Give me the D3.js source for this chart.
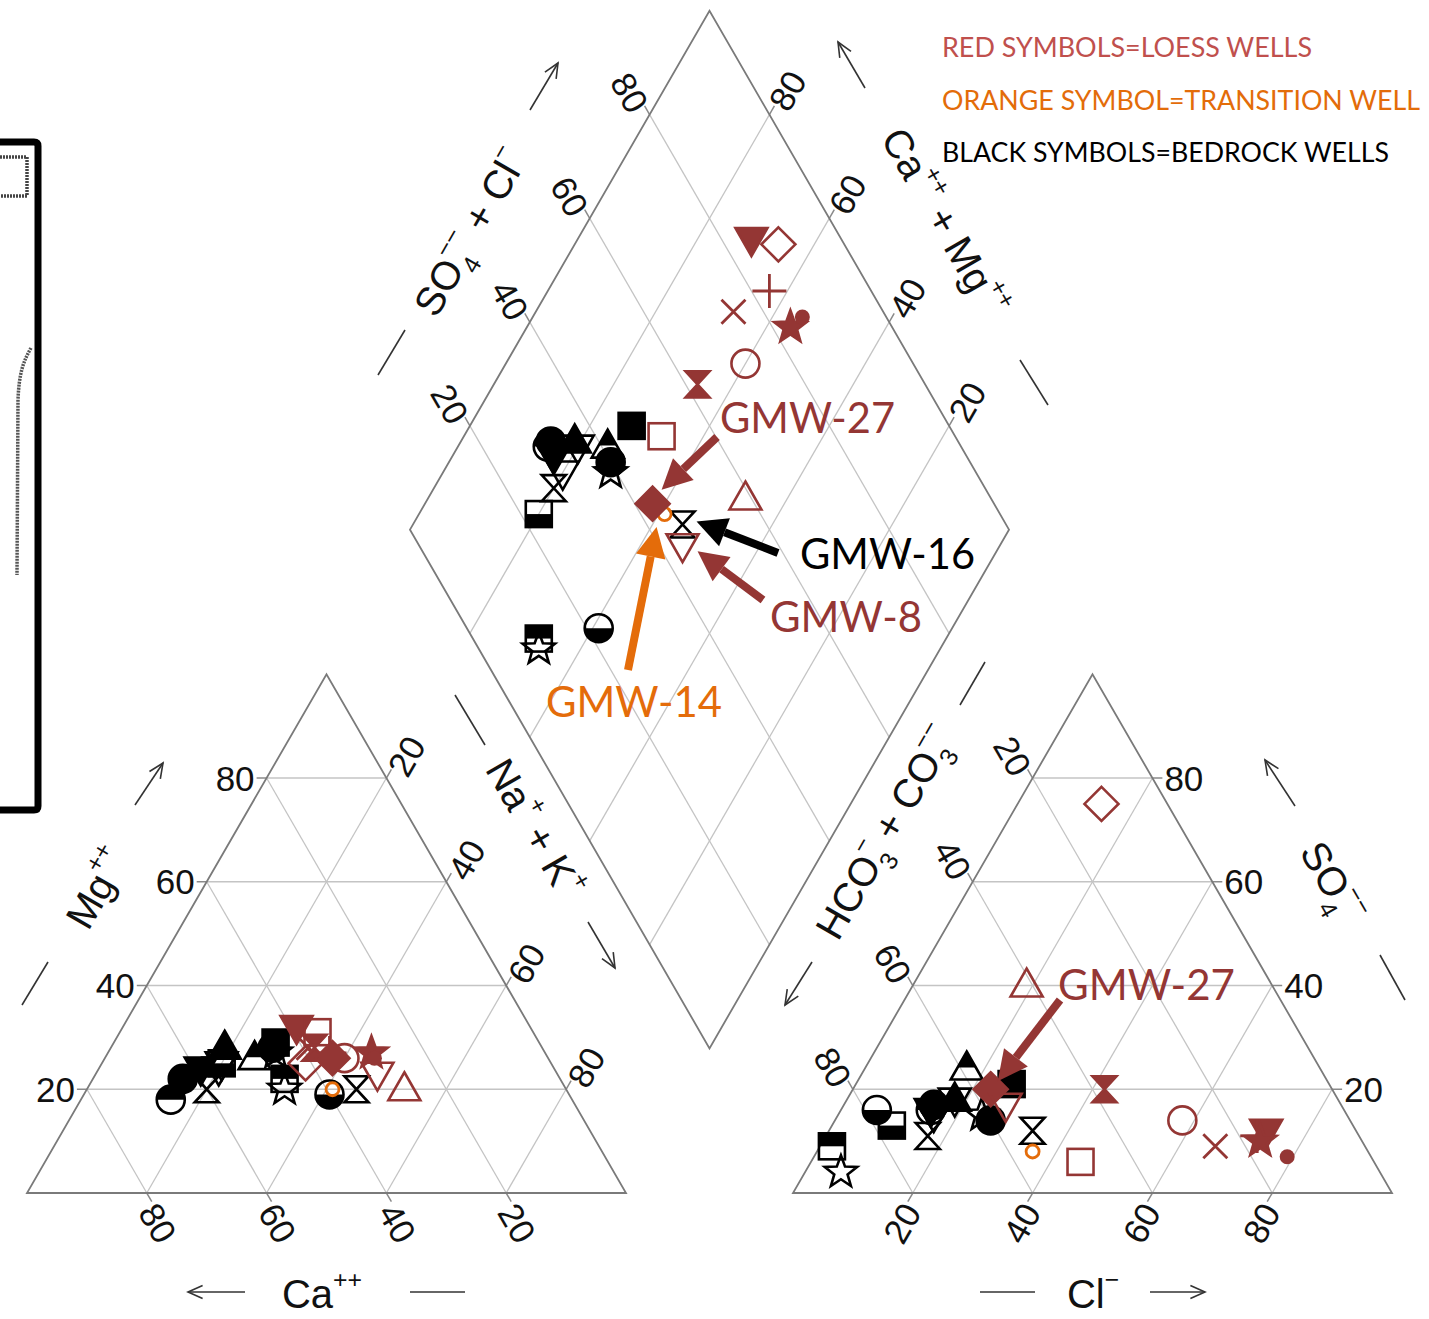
<!DOCTYPE html>
<html>
<head>
<meta charset="utf-8">
<script src="https://cdn.jsdelivr.net/npm/d3@7"></script>
<style>
  html, body { margin: 0; padding: 0; background: #fff; }
  svg { display: block; }
</style>
</head>
<body>
<svg id="chart" width="1429" height="1319"></svg>
<script>
// ---------------- DATA (percent of meq) ----------------
const tickValues = [20, 40, 60, 80];
const tickLabels = ["20", "40", "60", "80"];

const wellNames  = ["B1","B2","B3","B4","B5","B6","B7","B8","B9","B10","B11","B12","GMW-16","B14","B15","B16",
                    "GMW-14",
                    "L1","L2","L3","L4","L5","L6","L7","L8","L9","L10","GMW-27","GMW-8"];
const wellGroup  = ["bedrock","bedrock","bedrock","bedrock","bedrock","bedrock","bedrock","bedrock","bedrock","bedrock","bedrock","bedrock","bedrock","bedrock","bedrock","bedrock",
                    "transition",
                    "loess","loess","loess","loess","loess","loess","loess","loess","loess","loess","loess","loess"];
const wellSymbol = ["circle:f","circle:ht","triUp:f","triDown:o","triDown:f","triDown:o","hourglass:o","square:hb","triUp:ht","square:f","circle:f","star:o","hourglass:o","square:ht","star:o","circle:hb",
                    "dot:o",
                    "triDown:f","diamond:o","plus:o","cross:o","star:f","dot:f","circle:o","hourglass:f","square:o","triUp:o","diamond:f","triDown:o"];
// cations
const mgPct  = [22,18,28,25,24,24,20,25,26,29,28,27,20,22,20,19, 20, 32,25,27,28,27,26,26,28,31,20,26,23];
const nakPct = [15,15,19,20,17,20,20,20,25,27,27,28,45,32,33,41, 41, 29,34,37,33,44,45,40,34,33,53,38,47];
// anions
const so4Pct = [17,16,18,18,16,15,11,13,24,21,14,15,12, 9, 4,16,  8, 12,75,11, 9,10, 7,14,20, 6,40,20,17];
const clPct  = [15,15,18,18,15,16,17,10,17,26,26,24,34, 2, 6, 6, 36, 73,14,72,66,73,79,58,42,45,19,23,27];

const legendLines = ["RED SYMBOLS=LOESS WELLS", "ORANGE SYMBOL=TRANSITION WELL", "BLACK SYMBOLS=BEDROCK WELLS"];

// ---------------- STYLE ----------------
const groupColor = { bedrock: "#000000", transition: "#E46C0A", loess: "#943634" };
const drawOrder = ["bedrock", "transition", "loess"];

// ---------------- GEOMETRY ----------------
const svg = d3.select("#chart");
const L = 599, H = L * Math.sqrt(3) / 2;
const catO = { x: 27, y: 1193 };
const anO = { x: 793, y: 1193 };
const gap = anO.x - (catO.x + L);
const B = { x: catO.x + L + gap / 2, y: catO.y - gap / 2 * Math.sqrt(3) };

const sx = d3.scaleLinear().domain([0, 100]).range([0, L]);
const sy = d3.scaleLinear().domain([0, 100]).range([0, H]);

const catXY = (mg, nak) => [catO.x + sx(nak + mg / 2), catO.y - sy(mg)];
const anXY = (so4, cl) => [anO.x + sx(cl + so4 / 2), anO.y - sy(so4)];
const diaXY = (nak, a) => [B.x - sx(100 - nak) / 2 + sx(a) / 2, B.y - sy(100 - nak) - sy(a)];

const line = d3.line();
const gGrid = svg.append("g");
const gridColor = "#c4c4c4", edgeColor = "#7a7a7a", tickColor = "#8a8a8a";

function seg(p, q, color, w) {
  gGrid.append("path").attr("d", line([p, q])).attr("stroke", color).attr("stroke-width", w).attr("fill", "none");
}
function ext(p, q, len) { // extend from p away from q by len
  const dx = p[0] - q[0], dy = p[1] - q[1], d = Math.hypot(dx, dy);
  return [p[0] + dx / d * len, p[1] + dy / d * len];
}

// Triangles grid
tickValues.forEach(v => {
  // cation
  let a = catXY(v, 0), b = catXY(v, 100 - v); seg(a, b, gridColor, 1.3); seg(a, ext(a, b, 10), tickColor, 1.5);
  a = catXY(0, v); b = catXY(100 - v, v); seg(a, b, gridColor, 1.3);
  let c = catXY(100 - v, v); seg(c, ext(c, a, 10), tickColor, 1.5);
  a = catXY(0, 100 - v); b = catXY(100 - v, 0); seg(a, b, gridColor, 1.3); seg(a, ext(a, b, 10), tickColor, 1.5);
  // anion
  a = anXY(v, 0); b = anXY(v, 100 - v); seg(a, b, gridColor, 1.3); seg(b, ext(b, a, 10), tickColor, 1.5);
  a = anXY(0, v); b = anXY(100 - v, v); seg(a, b, gridColor, 1.3); seg(a, ext(a, b, 10), tickColor, 1.5);
  a = anXY(0, 100 - v); b = anXY(100 - v, 0); seg(a, b, gridColor, 1.3); seg(b, ext(b, a, 10), tickColor, 1.5);
  // diamond
  a = diaXY(v, 0); b = diaXY(v, 100); seg(a, b, gridColor, 1.3); seg(b, ext(b, a, 10), tickColor, 1.5);
  a = diaXY(0, v); b = diaXY(100, v); seg(a, b, gridColor, 1.3); seg(a, ext(a, b, 10), tickColor, 1.5);
});
// outlines
gGrid.append("path").attr("d", line([catXY(0,0), catXY(0,100), catXY(100,0)]) + "Z").attr("fill","none").attr("stroke",edgeColor).attr("stroke-width",1.8);
gGrid.append("path").attr("d", line([anXY(0,0), anXY(0,100), anXY(100,0)]) + "Z").attr("fill","none").attr("stroke",edgeColor).attr("stroke-width",1.8);
gGrid.append("path").attr("d", line([diaXY(0,0), diaXY(0,100), diaXY(100,100), diaXY(100,0)]) + "Z").attr("fill","none").attr("stroke",edgeColor).attr("stroke-width",1.8);

// ---------------- TICK LABELS ----------------
const gLab = svg.append("g").attr("font-family", "'Liberation Sans', Arial, sans-serif").attr("font-size", 35).attr("fill", "#111");
function rotLabel(x, y, rot, txt) {
  gLab.append("text").attr("transform", `translate(${x},${y}) rotate(${rot})`)
    .attr("text-anchor", "middle").attr("dy", "0.36em").text(txt);
}
tickValues.forEach((v, i) => {
  const t = tickLabels[i];
  let p = catXY(v, 0);
  gLab.append("text").attr("x", p[0] - 12).attr("y", p[1]).attr("dy", "0.36em").attr("text-anchor", "end").text(t);
  p = catXY(0, 100 - v); rotLabel(p[0] + 11, p[1] + 30, 60, t);
  p = catXY(100 - v, v); rotLabel(p[0] + 20, p[1] - 22, -60, t);
  p = anXY(100 - v, 0); rotLabel(p[0] - 20, p[1] - 22, 60, t);
  p = anXY(v, 100 - v);
  gLab.append("text").attr("x", p[0] + 12).attr("y", p[1]).attr("dy", "0.36em").attr("text-anchor", "start").text(t);
  p = anXY(0, v); rotLabel(p[0] - 11, p[1] + 30, -60, t);
  p = diaXY(0, v); rotLabel(p[0] - 20, p[1] - 22, 60, t);
  p = diaXY(100 - v, 100); rotLabel(p[0] + 18, p[1] - 24, -60, t);
});

// ---------------- AXIS TITLES ----------------
const gTit = svg.append("g").attr("font-family", "'Liberation Sans', Arial, sans-serif").attr("fill", "#111");
function rich(x, y, rot, parts, size) {
  const t = gTit.append("text").attr("transform", `translate(${x},${y}) rotate(${rot})`)
    .attr("text-anchor", "middle").attr("font-size", size).attr("y", size * 0.36);
  let level = 0, lastSubW = 0;
  parts.forEach(([txt, kind]) => {
    const small = size * 0.62;
    let target = 0, fs = size, dx = 0;
    if (kind === "sup") { target = -size * 0.5; fs = small; }
    else if (kind === "sub") { target = size * 0.3; fs = small; lastSubW = small * 0.556 * txt.length; }
    else if (kind === "supOver") { target = -size * 0.5; fs = small; dx = -lastSubW; }
    const ts = t.append("tspan").attr("font-size", fs).attr("dy", target - level).text(txt);
    if (dx) ts.attr("dx", dx);
    level = target;
  });
}
rich(97, 888, -60, [["Mg","n"],["++","sup"]], 40);
rich(322, 1294, 0, [["Ca","n"],["++","sup"]], 40);
rich(535, 828, 60, [["Na","n"],["+","sup"],[" + K","n"],["+","sup"]], 40);
rich(885, 832, -60, [["HCO","n"],["3","sub"],["−","supOver"],[" + CO","n"],["3","sub"],["−−","supOver"]], 40);
rich(1333, 882, 60, [["SO","n"],["4","sub"],["−−","supOver"]], 40);
rich(1093, 1294, 0, [["Cl","n"],["−","sup"]], 40);
rich(470, 232, -60, [["SO","n"],["4","sub"],["−−","supOver"],[" + Cl","n"],["−","sup"]], 40);
rich(945, 222, 60, [["Ca","n"],["++","sup"],[" + Mg","n"],["++","sup"]], 40);

// small axis lines and arrows
const gAx = svg.append("g").attr("stroke", "#333").attr("stroke-width", 1.6).attr("fill", "none");
function plainLine(x1, y1, x2, y2) { gAx.append("path").attr("d", line([[x1,y1],[x2,y2]])); }
function openArrow(x1, y1, x2, y2) {
  gAx.append("path").attr("d", line([[x1,y1],[x2,y2]]));
  const ang = Math.atan2(y2 - y1, x2 - x1), hl = 16, ha = 0.42;
  const p1 = [x2 - hl * Math.cos(ang - ha), y2 - hl * Math.sin(ang - ha)];
  const p2 = [x2 - hl * Math.cos(ang + ha), y2 - hl * Math.sin(ang + ha)];
  gAx.append("path").attr("d", line([p1, [x2, y2], p2]));
}
openArrow(135, 805, 163, 763); plainLine(22, 1005, 48, 962);
openArrow(245, 1292, 188, 1292); plainLine(410, 1292, 465, 1292);
plainLine(455, 695, 485, 745); openArrow(588, 922, 615, 968);
plainLine(985, 662, 960, 705); openArrow(812, 962, 785, 1005);
openArrow(1295, 806, 1265, 760); plainLine(1380, 955, 1405, 1000);
plainLine(980, 1292, 1035, 1292); openArrow(1150, 1292, 1205, 1292);
plainLine(378, 375, 405, 330); openArrow(530, 110, 558, 63);
openArrow(865, 88, 838, 42); plainLine(1020, 360, 1048, 405);

// ---------------- SYMBOLS ----------------
const gPts = svg.append("g");
function drawSymbol(code, color, x, y) {
  const [shape, mode] = code.split(":");
  const g = gPts.append("g").attr("transform", `translate(${x},${y})`);
  const sw = 2.6;
  const base = sel => sel.attr("fill", mode === "f" ? color : "none").attr("stroke", color).attr("stroke-width", sw);
  const fillPart = d => g.append("path").attr("d", d).attr("fill", color);
  switch (shape) {
    case "triUp":
      if (mode === "ht") fillPart("M0,-17L9.1,-1L-9.1,-1Z");
      base(g.append("path").attr("d", "M0,-17L16,11L-16,11Z")); break;
    case "triDown":
      base(g.append("path").attr("d", "M0,17L16,-11L-16,-11Z")); break;
    case "diamond":
      base(g.append("path").attr("d", "M0,-17L17,0L0,17L-17,0Z")); break;
    case "square":
      if (mode === "ht") fillPart("M-13,-13H13V0H-13Z");
      if (mode === "hb") fillPart("M-13,0H13V13H-13Z");
      base(g.append("rect").attr("x", -13).attr("y", -13).attr("width", 26).attr("height", 26)); break;
    case "circle":
      if (mode === "ht") fillPart("M-14,0A14,14 0 0,1 14,0Z");
      if (mode === "hb") fillPart("M-14,0A14,14 0 0,0 14,0Z");
      base(g.append("circle").attr("r", 14)); break;
    case "dot":
      if (mode === "f") g.append("circle").attr("r", 7.5).attr("fill", color);
      else g.append("circle").attr("r", 6.5).attr("fill", "none").attr("stroke", color).attr("stroke-width", 2.8);
      break;
    case "plus":
      g.append("path").attr("d", "M-17,0H17M0,-17V17").attr("stroke", color).attr("stroke-width", 2.8); break;
    case "cross":
      g.append("path").attr("d", "M-12,-12L12,12M-12,12L12,-12").attr("stroke", color).attr("stroke-width", 2.8); break;
    case "star": {
      const pts = d3.range(10).map(i => {
        const r = i % 2 === 0 ? 17 : 7, a = -Math.PI / 2 + i * Math.PI / 5;
        return [r * Math.cos(a), r * Math.sin(a)];
      });
      base(g.append("path").attr("d", line(pts) + "Z")); break;
    }
    case "hourglass":
      base(g.append("path").attr("d", "M-12,-13H12L-12,13H12Z").attr("stroke-linejoin", "miter")); break;
  }
}
const idx = d3.range(wellNames.length);
drawOrder.forEach(grp => {
  idx.filter(i => wellGroup[i] === grp).forEach(i => {
    const col = groupColor[grp];
    const c = catXY(mgPct[i], nakPct[i]);
    const a = anXY(so4Pct[i], clPct[i]);
    const d = diaXY(nakPct[i], so4Pct[i] + clPct[i]);
    drawSymbol(wellSymbol[i], col, c[0], c[1]);
    drawSymbol(wellSymbol[i], col, a[0], a[1]);
    drawSymbol(wellSymbol[i], col, d[0], d[1]);
  });
});

// ---------------- ANNOTATIONS ----------------
const gAnn = svg.append("g").attr("font-family", "Lato, 'Open Sans', sans-serif");
function bigArrow(x1, y1, x2, y2, color) {
  const ang = Math.atan2(y2 - y1, x2 - x1), hl = 30, hw = 15;
  const bx = x2 - hl * Math.cos(ang), by = y2 - hl * Math.sin(ang);
  gAnn.append("path").attr("d", line([[x1, y1], [bx, by]])).attr("stroke", color).attr("stroke-width", 8).attr("fill", "none");
  const nx = -Math.sin(ang), ny = Math.cos(ang);
  gAnn.append("path").attr("d", line([[x2, y2], [bx + nx * hw, by + ny * hw], [bx - nx * hw, by - ny * hw]]) + "Z").attr("fill", color);
}
function annText(x, y, txt, color, w) {
  gAnn.append("text").attr("x", x).attr("y", y).attr("font-size", 43).attr("fill", color)
    .attr("textLength", w).attr("lengthAdjust", "spacingAndGlyphs").text(txt);
}
const ptOf = name => { const i = wellNames.indexOf(name); return { i, d: diaXY(nakPct[i], so4Pct[i] + clPct[i]), a: anXY(so4Pct[i], clPct[i]) }; };
const w27 = ptOf("GMW-27"), w16 = ptOf("GMW-16"), w8 = ptOf("GMW-8"), w14 = ptOf("GMW-14");
bigArrow(717, 437, w27.d[0] + 9, w27.d[1] - 14, groupColor.loess);
bigArrow(778, 553, w16.d[0] + 14, w16.d[1] - 3, "#000");
bigArrow(763, 600, w8.d[0] + 15, w8.d[1] + 6, groupColor.loess);
bigArrow(628, 670, w14.d[0] - 8, w14.d[1] + 13, groupColor.transition);
bigArrow(1060, 1000, w27.a[0] + 7, w27.a[1] - 8, groupColor.loess);
annText(720, 433, "GMW-27", groupColor.loess, 175);
annText(800, 569, "GMW-16", "#000", 175);
annText(770, 632, "GMW-8", groupColor.loess, 152);
annText(546, 717, "GMW-14", groupColor.transition, 176);
annText(1058, 1000, "GMW-27", groupColor.loess, 177);

// legend
const legColors = ["#C0504D", "#E36C09", "#000000"];
const legWidths = [370, 478, 447];
legendLines.forEach((t, i) => {
  gAnn.append("text").attr("x", 942).attr("y", 57 + i * 52.5).attr("font-size", 26).attr("fill", legColors[i])
    .attr("textLength", legWidths[i]).attr("lengthAdjust", "spacingAndGlyphs").text(t);
});

// ---------------- LEFT INSET FRAGMENT ----------------
const gBox = svg.append("g");
gBox.append("path").attr("d", "M0,142H34Q38,142 38,146V806Q38,810 34,810H0")
  .attr("fill", "none").attr("stroke", "#000").attr("stroke-width", 7);
gBox.append("path").attr("d", "M0,157H27V196H0")
  .attr("fill", "none").attr("stroke", "#444").attr("stroke-width", 3.5).attr("stroke-dasharray", "2,1");
gBox.append("path").attr("d", "M31,348C24,360 19,372 18,400L17,575")
  .attr("fill", "none").attr("stroke", "#555").attr("stroke-width", 3.5).attr("stroke-dasharray", "2,1");
</script>
</body>
</html>
